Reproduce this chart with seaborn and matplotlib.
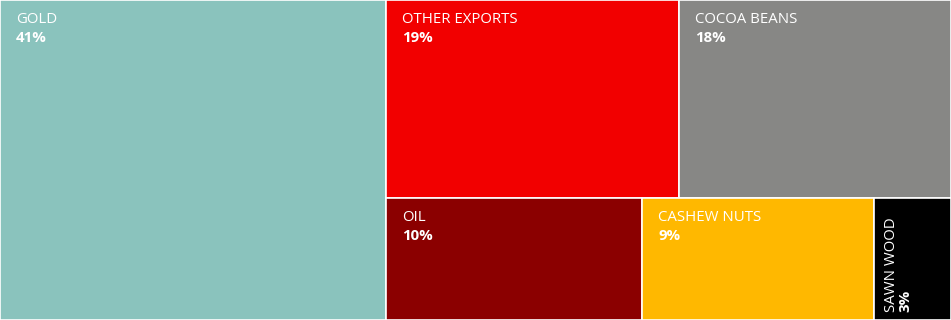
import matplotlib
matplotlib.use("Agg")
import matplotlib.pyplot as plt
import seaborn as sns
from matplotlib.patches import Rectangle

categories = ["GOLD", "OTHER EXPORTS", "COCOA BEANS", "OIL", "CASHEW NUTS", "SAWN WOOD"]
shares = [40.6, 19.1, 17.7, 10.3, 9.3, 3.1]
colors = ["#8AC3BD", "#F20000", "#878785", "#8B0000", "#FFB800", "#000000"]

sns.set_theme(style="white")
plt.rcParams['font.family'] = ['Open Sans', 'DejaVu Sans']

W, H = 951, 320
fig = plt.figure(figsize=(W / 100, H / 100), dpi=100)
ax = fig.add_axes([0, 0, 1, 1])
ax.set_xlim(0, W)
ax.set_ylim(H, 0)
ax.axis("off")

total = sum(shares)
# layout: first item is a full-height column, remaining items in two rows
rows = [[1, 2], [3, 4, 5]]
rects = {}
w0 = shares[0] / total * W
rects[0] = (0, 0, w0, H)
rest = sum(shares[1:])
rest_w = W - w0
y = 0
for row in rows:
    rs = sum(shares[i] for i in row)
    h = rs / rest * H
    x = w0
    for i in row:
        w = shares[i] / rs * rest_w
        rects[i] = (x, y, w, h)
        x += w
    y += h

fs = 10.8
for i, (x, y, w, h) in rects.items():
    ax.add_patch(Rectangle((x, y), w, h, facecolor=colors[i], edgecolor="white", linewidth=1.2))
    pct = f"{round(shares[i]):d}%"
    if w < 100:
        ax.text(x + 10, y + h - 8, categories[i], rotation=90, color="white", fontsize=fs,
                ha="left", va="bottom")
        ax.text(x + 25, y + h - 8, pct, rotation=90, color="white", fontsize=fs,
                fontweight="bold", ha="left", va="bottom")
    else:
        ax.text(x + 16, y + 12, categories[i], color="white", fontsize=fs, ha="left", va="top")
        ax.text(x + 16, y + 31, pct, color="white", fontsize=fs, fontweight="bold", ha="left", va="top")

fig.savefig("out.png", dpi=100)
